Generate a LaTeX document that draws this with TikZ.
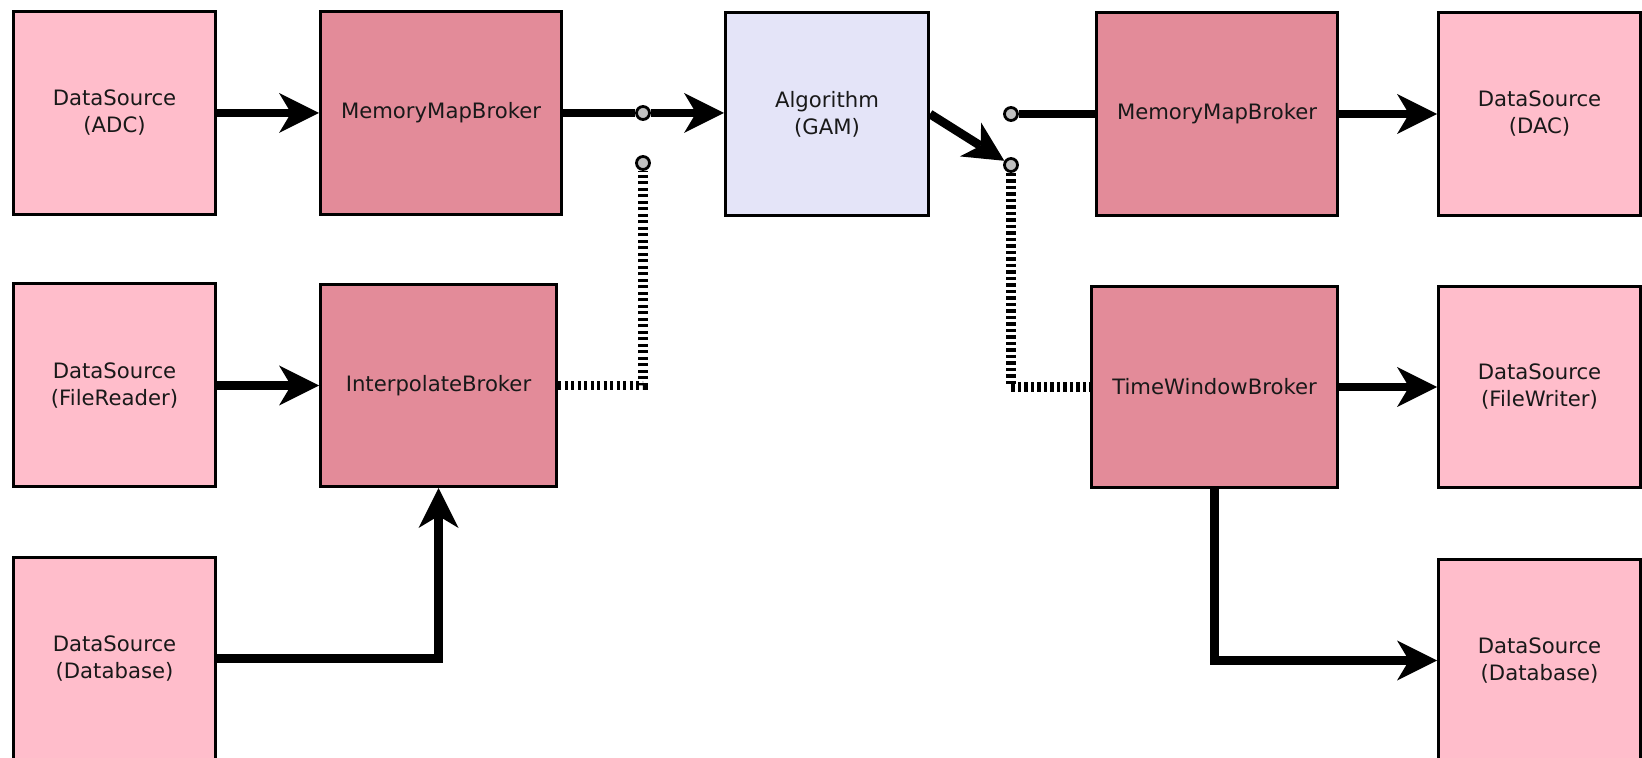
\documentclass[tikz,border=0pt]{standalone}
\usepackage{fontspec}
\setmainfont{DejaVu Sans}
\usepackage{tikz}
\usetikzlibrary{arrows.meta, positioning}
\usepackage{xcolor}

\definecolor{srcpink}{RGB}{255,189,203}
\definecolor{brokerrose}{RGB}{227,139,153}
\definecolor{gamlav}{RGB}{228,228,248}
\definecolor{switchgray}{RGB}{192,192,192}

\begin{document}
\begin{tikzpicture}[x=0.5pt, y=-0.5pt,
  block/.style={draw=black, line width=1.5pt, align=center, inner sep=0pt,
    font=\fontsize{10.6}{13.5}\selectfont, text=black!90, minimum height=101.5pt},
  source/.style={block, fill=srcpink, minimum width=101pt},
  broker/.style={block, fill=brokerrose},
  flow/.style={line width=4.4pt, -{Stealth[length=20pt, width=20pt, inset=6pt, line width=0pt]}},
  wire/.style={line width=4.4pt},
  dots/.style={line width=4.6pt, dash pattern=on 1.7pt off 1.55pt},
  switchpt/.style={circle, draw=black, fill=switchgray, line width=1.4pt, minimum size=6.5pt, inner sep=0pt}
]

  \useasboundingbox (0,0) rectangle (1642,758);
  \clip (0,0) rectangle (1642,758);

  % Input side
  \node[source] (adc) at (114.5,113) {DataSource\\(ADC)};
  \node[source] (freader) at (114.5,385.5) {DataSource\\(FileReader)};
  \node[source] (dbIn) at (114.5,658.5) {DataSource\\(Database)};
  \node[broker, minimum width=120.5pt] (mmbIn) at (441,113) {MemoryMapBroker};
  \node[broker, minimum width=118pt, minimum height=101pt] (interp) at (438.5,385.5) {InterpolateBroker};

  % GAM
  \node[block, fill=gamlav, minimum width=101.5pt] (alg) at (827,114) {Algorithm\\(GAM)};

  % Output side
  \node[broker, minimum width=120.5pt] (mmbOut) at (1217,114) {MemoryMapBroker};
  \node[broker, minimum width=123pt, minimum height=100.5pt] (twb) at (1214.5,387) {TimeWindowBroker};
  \node[source] (dac) at (1539.5,114) {DataSource\\(DAC)};
  \node[source, minimum height=100.5pt] (fwriter) at (1539.5,387) {DataSource\\(FileWriter)};
  \node[source] (dbOut) at (1539.5,660.5) {DataSource\\(Database)};

  % Switch contacts
  \node[switchpt] (swA) at (643,113) {};
  \node[switchpt] (swB) at (643,163) {};
  \node[switchpt] (swC) at (1011,114) {};
  \node[switchpt] (swD) at (1011,165) {};

  % Connectors
  \draw[flow] (adc) -- (mmbIn);
  \draw[flow] (freader) -- (interp);
  \draw[flow] (dbIn.east) -| (interp.south);
  \draw[wire] (mmbIn.east) -- (swA);
  \draw[flow] (swA) -- (swA -| alg.west);
  \draw[dots] (interp.east) -| (swB);
  \draw[flow] (alg.east) -- (swD);
  \draw[wire] (swC) -- (swC -| mmbOut.west);
  \draw[dots] (swD) |- (twb.west);
  \draw[flow] (mmbOut) -- (dac);
  \draw[flow] (twb) -- (fwriter);
  \draw[flow] (twb.south) |- (dbOut.west);

\end{tikzpicture}
\end{document}
